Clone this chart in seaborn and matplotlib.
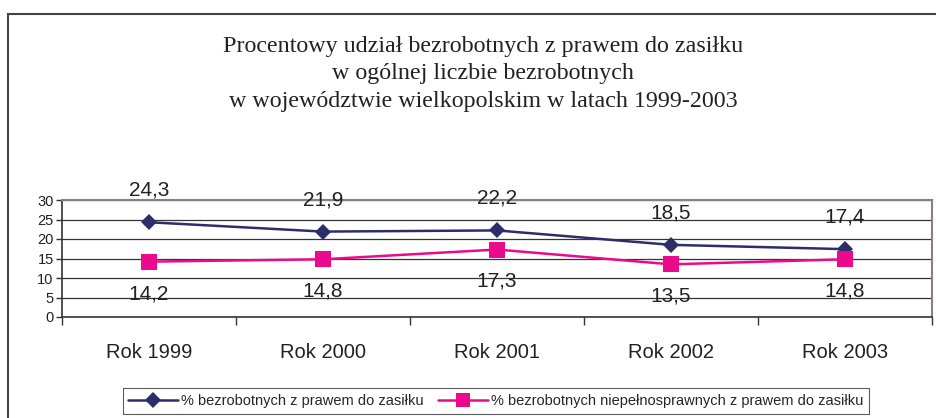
import numpy as np
import pandas as pd
import matplotlib.pyplot as plt
import seaborn as sns
from matplotlib.patches import Rectangle

# dane
years = ["Rok 1999", "Rok 2000", "Rok 2001", "Rok 2002", "Rok 2003"]
all_unemp = [24.3, 21.9, 22.2, 18.5, 17.4]
disabled_unemp = [14.2, 14.8, 17.3, 13.5, 14.8]
labels_all = ["24,3", "21,9", "22,2", "18,5", "17,4"]
labels_dis = ["14,2", "14,8", "17,3", "13,5", "14,8"]
series_names = ["% bezrobotnych z prawem do zasiłku",
                "% bezrobotnych niepełnosprawnych z prawem do zasiłku"]

df = pd.DataFrame({
    "rok": years * 2,
    "wartosc": all_unemp + disabled_unemp,
    "seria": [series_names[0]] * 5 + [series_names[1]] * 5,
})

sns.set_theme(style="white")
plt.rcParams['font.family'] = ['Liberation Sans', 'DejaVu Sans']

navy = "#2d2d6b"
pink = "#ec0a8c"

fig = plt.figure(figsize=(9.37, 4.18), dpi=100)
ax = fig.add_axes([62/937, 1 - 317/418, 870/937, 117/418])

sns.lineplot(data=df, x="rok", y="wartosc", hue="seria", style="seria",
             markers={series_names[0]: "D", series_names[1]: "s"},
             dashes=False, palette=[navy, pink], linewidth=1.8,
             markeredgewidth=0, sort=False, ax=ax)
for line, ms in zip(ax.lines[:2], [8, 11]):
    line.set_markersize(ms)

for i, (v, t) in enumerate(zip(all_unemp, labels_all)):
    ax.annotate(t, (i, v), xytext=(0, 23), textcoords="offset points",
                ha="center", va="center", fontsize=15, color="#222222")
for i, (v, t) in enumerate(zip(disabled_unemp, labels_dis)):
    ax.annotate(t, (i, v), xytext=(0, -23), textcoords="offset points",
                ha="center", va="center", fontsize=15, color="#222222")

ax.set_ylim(0, 30)
ax.set_yticks(range(0, 31, 5))
ax.set_xlim(-0.5, 4.5)
ax.set_xticks(np.arange(-0.5, 5, 1))
ax.set_xticklabels([])
ax.set_xticks(range(5), minor=True)
ax.set_xticklabels(years, minor=True, fontsize=14.5, color="#222222")
ax.tick_params(axis="x", which="major", direction="out", length=6,
               width=1, color="#333333", bottom=True)
ax.tick_params(axis="x", which="minor", length=0, pad=19)
ax.tick_params(axis="y", direction="out", length=4, width=1,
               color="#333333", left=True, labelsize=10.5, labelcolor="#222222", pad=2)
ax.set_xlabel("")
ax.set_ylabel("")
ax.grid(axis="y", color="#333333", linewidth=0.9)
ax.set_axisbelow(True)
for side in ["left", "bottom"]:
    ax.spines[side].set_color("#333333")
    ax.spines[side].set_linewidth(1.2)
for side in ["top", "right"]:
    ax.spines[side].set_color("#8a8080")
    ax.spines[side].set_linewidth(1.5)

ax.get_legend().remove()
handles = ax.lines[:2]
fig.legend(handles, series_names, loc="lower center", ncol=2,
           bbox_to_anchor=(0.529, -0.008), fontsize=10.5, frameon=True,
           fancybox=False, edgecolor="#333333", handlelength=3.4,
           columnspacing=1.0, handletextpad=0.2, borderpad=0.4)
leg = fig.legends[0]
leg.get_frame().set_linewidth(0.8)
for lh, ms in zip(leg.legend_handles, [8, 10]):
    lh.set_markersize(ms)

fig.text(483/937, 1 - 74/418,
         "Procentowy udział bezrobotnych z prawem do zasiłku\n"
         "w ogólnej liczbie bezrobotnych\n"
         "w województwie wielkopolskim w latach 1999-2003",
         ha="center", va="center", fontsize=17.3, linespacing=1.4,
         family=["Liberation Serif", "DejaVu Serif"], color="#222222")

fig.patches.append(Rectangle((8/937, -0.2), 1.2, 1.2 - 14/418,
                             transform=fig.transFigure, fill=False,
                             edgecolor="#444444", linewidth=1.5))

fig.savefig("out.png", dpi=100)
